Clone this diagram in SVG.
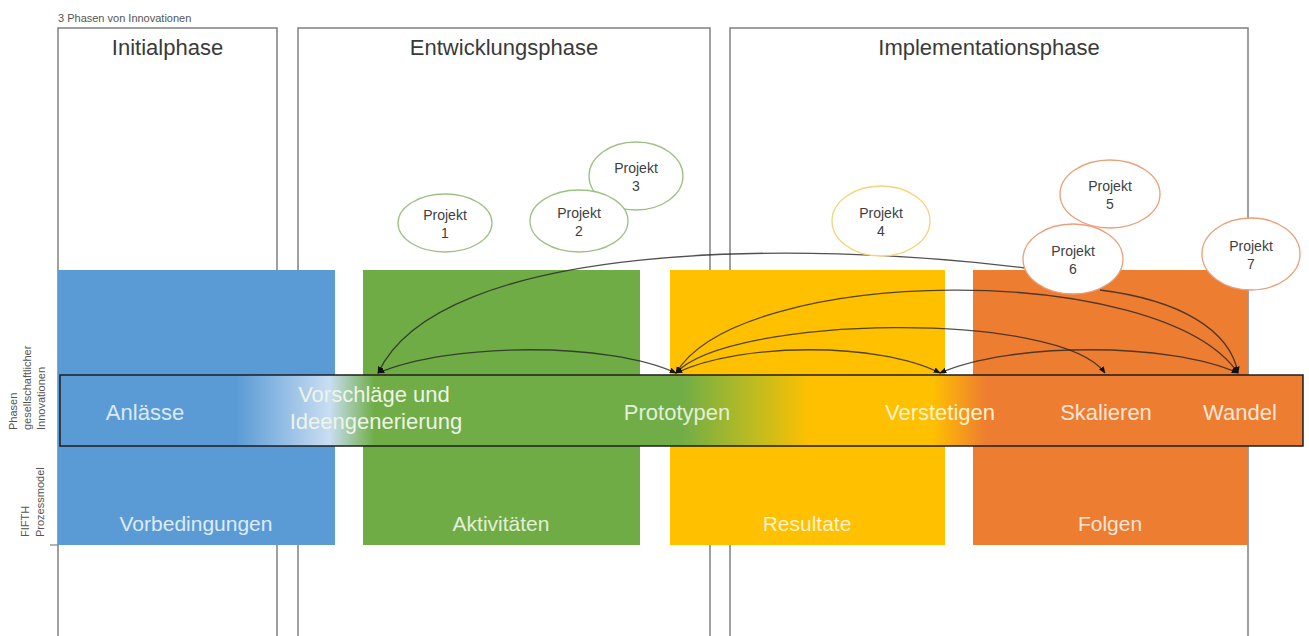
<svg xmlns="http://www.w3.org/2000/svg" width="1309" height="636" viewBox="0 0 1309 636">
<style>
.frame{fill:none;stroke:#808080;stroke-width:1.5}
.title{font-family:"Liberation Sans",Arial,sans-serif;font-size:22px;fill:#3a3a3a;text-anchor:middle}
.small{font-family:"Liberation Sans",Arial,sans-serif;font-size:11px;fill:#555}
.lbl{font-family:"Liberation Sans",Arial,sans-serif;font-size:21px;text-anchor:middle}
.bar{font-family:"Liberation Sans",Arial,sans-serif;font-size:22px;text-anchor:middle}
.conn{fill:none;stroke:#262626;stroke-opacity:0.8;stroke-width:1.3}
.pj{font-family:"Liberation Sans",Arial,sans-serif;font-size:14px;fill:#404040;text-anchor:middle}
.eg{fill:#fff;stroke:#9dc183;stroke-width:1.3}
.ey{fill:#fff;stroke:#f3d47a;stroke-width:1.3}
.eo{fill:#fff;stroke:#eaa07a;stroke-width:1.3}
</style>
<defs>
<linearGradient id="barg" x1="0" y1="0" x2="1" y2="0">
<stop offset="0" stop-color="#5b9bd5"/>
<stop offset="0.142" stop-color="#5b9bd5"/>
<stop offset="0.217" stop-color="#c9def2"/>
<stop offset="0.253" stop-color="#70ad47"/>
<stop offset="0.5" stop-color="#70ad47"/>
<stop offset="0.555" stop-color="#b9bb22"/>
<stop offset="0.604" stop-color="#ffc000"/>
<stop offset="0.702" stop-color="#ffc000"/>
<stop offset="0.745" stop-color="#ed7d31"/>
<stop offset="1" stop-color="#ed7d31"/>
</linearGradient>
<marker id="ah" viewBox="0 0 10 10" refX="9" refY="5" markerWidth="7" markerHeight="7" markerUnits="userSpaceOnUse" orient="auto-start-reverse">
<path d="M0,1 L10,5 L0,9 z" fill="#111"/>
</marker>
</defs>
<rect width="1309" height="636" fill="#fff"/>
<text class="small" x="58" y="22" font-size="12">3 Phasen von Innovationen</text>

<g id="phase-initial">
<path class="frame" d="M58,640 V28 H277 V640"/>
<text class="title" x="167.5" y="55">Initialphase</text>
</g>
<g id="phase-entwicklung">
<path class="frame" d="M298,640 V28 H710 V640"/>
<text class="title" x="504" y="55">Entwicklungsphase</text>
</g>
<g id="phase-implementation">
<path class="frame" d="M730,640 V28 H1248 V640"/>
<text class="title" x="989" y="55">Implementationsphase</text>
</g>

<g id="side-labels">
<text class="small" transform="translate(17,430) rotate(-90)">Phasen</text>
<text class="small" transform="translate(31,430) rotate(-90)">gesellschaftlicher</text>
<text class="small" transform="translate(45,430) rotate(-90)">Innovationen</text>
<text class="small" transform="translate(29,537) rotate(-90)">FIFTH</text>
<text class="small" transform="translate(44,537) rotate(-90)">Prozessmodel</text>
<line x1="50" y1="545" x2="58" y2="545" stroke="#808080" stroke-width="1.2"/>
</g>

<g id="block-vorbedingungen">
<rect x="58" y="270" width="277" height="275" fill="#5b9bd5"/>
<text class="lbl" x="196" y="531" fill="#deebf7">Vorbedingungen</text>
</g>
<g id="block-aktivitaeten">
<rect x="363" y="270" width="277" height="275" fill="#6fac46"/>
<text class="lbl" x="501" y="531" fill="#e2efd9">Aktivitäten</text>
</g>
<g id="block-resultate">
<rect x="670" y="270" width="275" height="275" fill="#ffc000"/>
<text class="lbl" x="807" y="531" fill="#fff2cc">Resultate</text>
</g>
<g id="block-folgen">
<rect x="973" y="270" width="275" height="275" fill="#ed7d31"/>
<text class="lbl" x="1110" y="531" fill="#fbe5d6">Folgen</text>
</g>

<g id="phase-bar">
<rect x="60" y="375" width="1243" height="71" fill="url(#barg)" stroke="#1e1e1e" stroke-width="1.5"/>
<text class="bar" x="145" y="420" fill="#dce9f6">Anlässe</text>
<text class="bar" x="374" y="402" fill="#eef4e8">Vorschläge und</text>
<text class="bar" x="376" y="429" fill="#eef4e8">Ideengenerierung</text>
<text class="bar" x="677" y="420" fill="#e2efd9">Prototypen</text>
<text class="bar" x="940" y="420" fill="#fff2cc">Verstetigen</text>
<text class="bar" x="1106" y="420" fill="#fbe5d6">Skalieren</text>
<text class="bar" x="1240" y="420" fill="#fbe5d6">Wandel</text>
</g>

<g id="connectors">
<path class="conn" d="M1025,268 C800,240 440,240 378,373" marker-end="url(#ah)"/>
<path class="conn" d="M378,373 C450,342 610,342 676,373" marker-start="url(#ah)" marker-end="url(#ah)"/>
<path class="conn" d="M676,373 C740,265 1160,260 1238,373" marker-start="url(#ah)" marker-end="url(#ah)"/>
<path class="conn" d="M676,373 C730,315 1060,310 1105,373" marker-start="url(#ah)" marker-end="url(#ah)"/>
<path class="conn" d="M676,373 C740,342 880,342 940,373" marker-start="url(#ah)" marker-end="url(#ah)"/>
<path class="conn" d="M940,373 C1010,342 1170,342 1238,373" marker-start="url(#ah)" marker-end="url(#ah)"/>
<path class="conn" d="M1100,290 C1180,300 1230,330 1238,373" marker-end="url(#ah)"/>
</g>

<g id="projekt-1">
<ellipse class="eg" cx="445" cy="223" rx="47" ry="29"/>
<text class="pj" x="445" y="220">Projekt</text>
<text class="pj" x="445" y="238">1</text>
</g>
<g id="projekt-3">
<ellipse class="eg" cx="636" cy="176" rx="47" ry="34"/>
<text class="pj" x="636" y="173">Projekt</text>
<text class="pj" x="636" y="191">3</text>
</g>
<g id="projekt-2">
<ellipse class="eg" cx="579" cy="221" rx="49" ry="31"/>
<text class="pj" x="579" y="218">Projekt</text>
<text class="pj" x="579" y="236">2</text>
</g>
<g id="projekt-4">
<ellipse class="ey" cx="881" cy="221" rx="49" ry="35"/>
<text class="pj" x="881" y="218">Projekt</text>
<text class="pj" x="881" y="236">4</text>
</g>
<g id="projekt-5">
<ellipse class="eo" cx="1110" cy="194" rx="50" ry="34"/>
<text class="pj" x="1110" y="191">Projekt</text>
<text class="pj" x="1110" y="209">5</text>
</g>
<g id="projekt-6">
<ellipse class="eo" cx="1073" cy="259" rx="50" ry="35"/>
<text class="pj" x="1073" y="256">Projekt</text>
<text class="pj" x="1073" y="274">6</text>
</g>
<g id="projekt-7">
<ellipse class="eo" cx="1251" cy="254" rx="49" ry="36"/>
<text class="pj" x="1251" y="251">Projekt</text>
<text class="pj" x="1251" y="269">7</text>
</g>
</svg>
